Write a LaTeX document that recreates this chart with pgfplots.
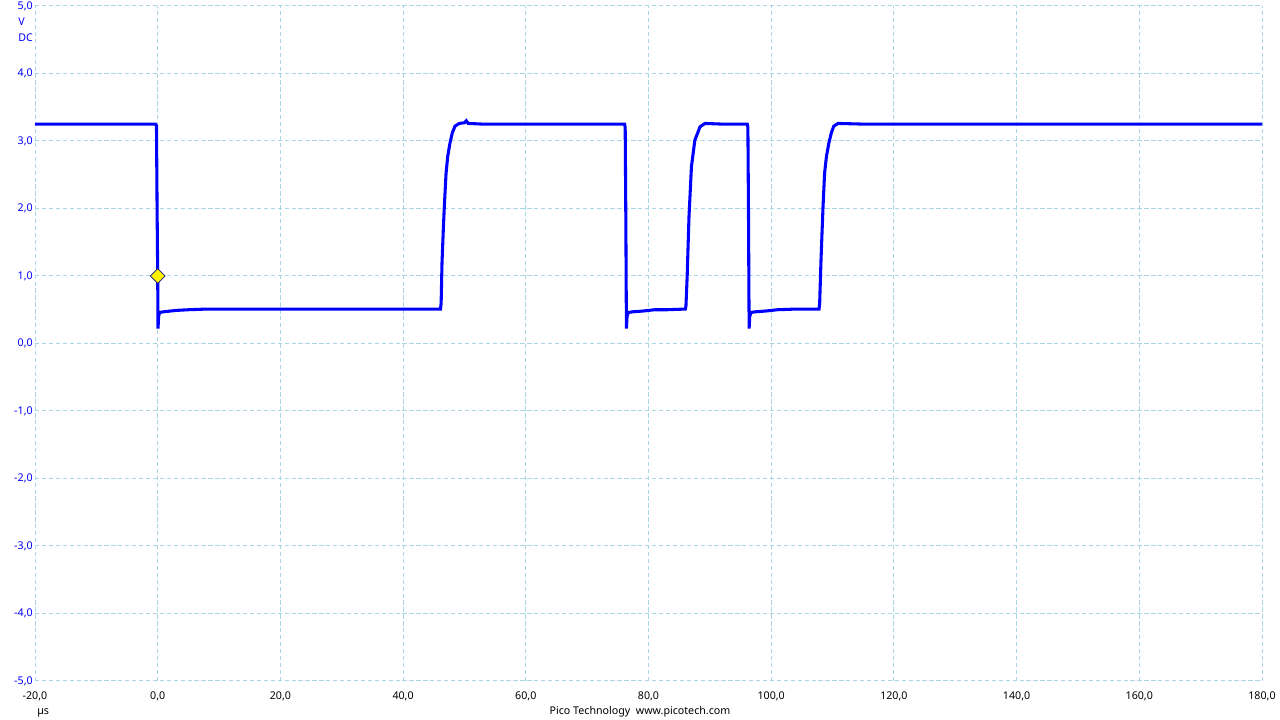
\documentclass[border=0pt]{standalone}
\usepackage{pgfplots}
\pgfplotsset{compat=1.18}
\usepackage{fontspec}
\setmainfont{Noto Sans}
\definecolor{gridblue}{RGB}{168,214,228}
\definecolor{trace}{RGB}{0,0,255}
\definecolor{navy}{RGB}{20,20,120}
\begin{document}
\begin{tikzpicture}
\path[use as bounding box] (-26.25pt,-29.25pt) rectangle (933.75pt,510.75pt);
\begin{axis}[
  at={(0pt,0pt)}, anchor=south west,
  scale only axis, width=920.25pt, height=506.25pt,
  xmin=-20, xmax=180, ymin=-5, ymax=5,
  xtick={-20,0,...,180}, ytick={-5,-4,...,5},
  axis line style={draw=none},
  major tick length=0pt,
  grid=major,
  major grid style={gridblue, line width=0.75pt, dash pattern=on 3.2pt off 2pt},
  /pgf/number format/fixed, /pgf/number format/fixed zerofill,
  /pgf/number format/precision=1, /pgf/number format/use comma,
  /pgf/number format/assume math mode=true,
  font=\fontsize{8}{9.6}\selectfont,
  xticklabel style={anchor=north, inner sep=0pt, yshift=-8.2pt, text=black},
  yticklabel style={anchor=east, inner sep=0pt, xshift=-1.5pt, text=trace},
  clip=true,
]
\addplot[trace, line width=2.3pt, line join=miter] coordinates {
(-20,3.25) (-0.4,3.25) (-0.2,3.23)
(-0.1,2.0) (0.0,1.0) (0.05,0.22) (0.15,0.40) (0.3,0.46) (1,0.47) (2,0.48) (3,0.49) (5,0.50) (8,0.51)
(20,0.51) (35,0.51) (46.1,0.51)
(46.2,0.6) (46.34,1.19) (46.55,1.68) (46.72,2.03) (47.0,2.52) (47.27,2.77) (47.64,2.97) (48.02,3.12) (48.46,3.22) (49.16,3.26)
(50.0,3.27) (50.3,3.30) (50.6,3.26) (53,3.25) (60,3.25) (70,3.25) (76.1,3.25)
(76.2,3.2) (76.3,1.9) (76.4,0.22) (76.5,0.40) (76.7,0.46) (77.5,0.47) (79,0.48) (81,0.50) (83,0.50) (86.0,0.51)
(86.1,0.55) (86.3,0.99) (86.6,1.88) (87.0,2.62) (87.55,3.01) (88.4,3.21) (89.2,3.26) (92,3.25) (96.1,3.25)
(96.2,3.2) (96.3,1.9) (96.4,0.22) (96.5,0.40) (96.7,0.46) (97.5,0.47) (99,0.48) (101,0.50) (104,0.51) (107.8,0.51)
(107.9,0.60) (108.1,1.19) (108.3,1.68) (108.45,2.03) (108.7,2.52) (109.0,2.77) (109.4,2.97) (109.8,3.12) (110.2,3.22) (110.9,3.26)
(115,3.25) (130,3.25) (150,3.25) (165,3.25) (180,3.25)
};
\addplot[only marks, mark=square*, mark size=3.9pt, mark options={rotate=45, fill=yellow, draw=navy, line width=0.5pt}] coordinates {(0,1.0)};
\end{axis}
\begin{scope}[font=\fontsize{8}{9.6}\selectfont]
\node[anchor=west, inner sep=0pt, text=trace] at (-12.75pt,494.25pt) {V};
\node[anchor=west, inner sep=0pt, text=trace] at (-12.75pt,482.6pt) {DC};
\node[anchor=west, inner sep=0pt] at (1.5pt,-24pt) {µs};
\node[inner sep=0pt] at (453.75pt,-23.25pt) {Pico Technology\ \ www.picotech.com};
\end{scope}
\end{tikzpicture}
\end{document}
